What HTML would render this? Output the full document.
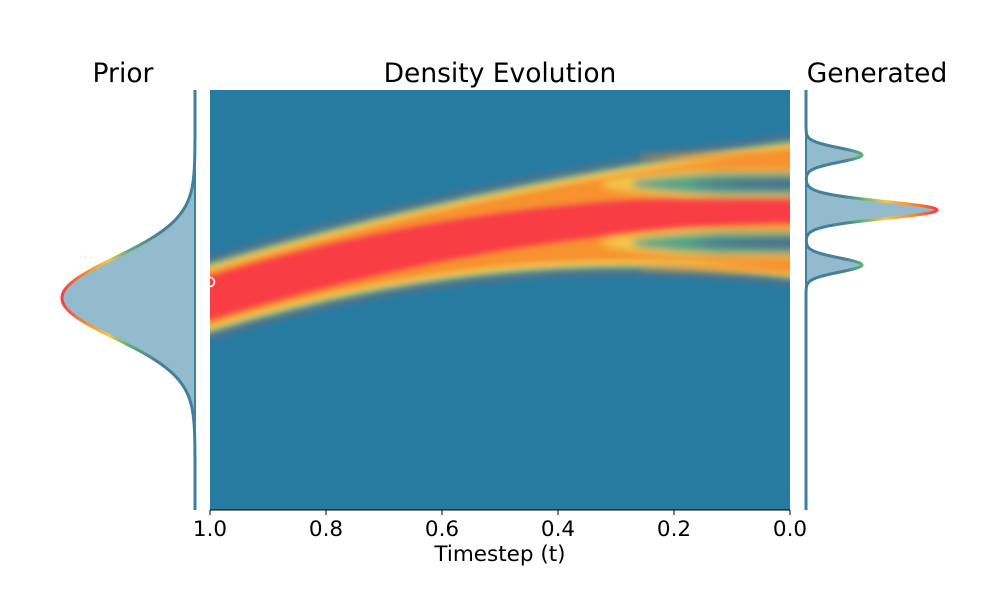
<!DOCTYPE html>
<html><head><meta charset="utf-8"><style>
body{margin:0;background:#fff;width:1000px;height:600px;overflow:hidden}
svg{display:block}
text{font-family:"DejaVu Sans","Liberation Sans",sans-serif;fill:#000}
</style></head><body>
<svg id="s" width="1000" height="600" xmlns="http://www.w3.org/2000/svg">
<defs>
<clipPath id="cp"><rect x="210" y="90" width="580" height="420"/></clipPath>
<filter id="bl" x="-10%" y="-10%" width="120%" height="120%"><feGaussianBlur stdDeviation="3"/></filter>
<filter id="bl2" x="-10%" y="-50%" width="120%" height="200%"><feGaussianBlur stdDeviation="4"/></filter>
<linearGradient id="gp" x1="195" y1="0" x2="62" y2="0" gradientUnits="userSpaceOnUse">
<stop offset="0" stop-color="#3f7fa0"/><stop offset="0.3" stop-color="#4d7f94"/><stop offset="0.5" stop-color="#5bb07a"/><stop offset="0.65" stop-color="#f4c64a"/><stop offset="0.8" stop-color="#f7922e"/><stop offset="1" stop-color="#f83e44"/></linearGradient>
<linearGradient id="gg" x1="806" y1="0" x2="937" y2="0" gradientUnits="userSpaceOnUse">
<stop offset="0" stop-color="#3f7fa0"/><stop offset="0.3" stop-color="#4d7f94"/><stop offset="0.42" stop-color="#5bb07a"/><stop offset="0.6" stop-color="#f4c64a"/><stop offset="0.8" stop-color="#f7922e"/><stop offset="1" stop-color="#f83e44"/></linearGradient>
</defs>
<rect x="210" y="90" width="580" height="420" fill="#277ba0"/>
<g clip-path="url(#cp)" id="band"></g>
<g id="marg"></g>
<circle cx="210" cy="282" r="4.5" fill="none" stroke="#fff" stroke-width="1.5"/>
<line x1="195" y1="90" x2="195" y2="510" stroke="#3f7fa0" stroke-width="2"/>
<line x1="806" y1="90" x2="806" y2="510" stroke="#3f7fa0" stroke-width="2"/>
<line x1="210" y1="510" x2="790" y2="510" stroke="#000" stroke-width="1"/>
<g stroke="#000"><line x1="210" y1="510" x2="210" y2="515"/><line x1="326" y1="510" x2="326" y2="515"/><line x1="442" y1="510" x2="442" y2="515"/><line x1="558" y1="510" x2="558" y2="515"/><line x1="674" y1="510" x2="674" y2="515"/><line x1="790" y1="510" x2="790" y2="515"/></g>
<g font-size="21.5" text-anchor="middle"><text x="210" y="536">1.0</text><text x="326" y="536">0.8</text><text x="442" y="536">0.6</text><text x="558" y="536">0.4</text><text x="674" y="536">0.2</text><text x="790" y="536">0.0</text>
<text x="500" y="561">Timestep (t)</text></g>
<g font-size="26.5" text-anchor="middle"><text x="123" y="82">Prior</text><text x="500" y="82">Density Evolution</text><text x="877" y="82">Generated</text></g>
</svg>
<script>
var NS="http://www.w3.org/2000/svg";
function poly(par,pts,fill,filt){var p=document.createElementNS(NS,"polygon");p.setAttribute("points",pts.map(function(a){return a[0].toFixed(1)+","+a[1].toFixed(1)}).join(" "));p.setAttribute("fill",fill);if(filt)p.setAttribute("filter",filt);par.appendChild(p);}
var band=document.getElementById("band");
function c(u){return 298-88*(1-Math.pow(1-u,2));}
function hw(u){return 30+ 34*Math.pow(u,2.2);}
function core(u){return 23-9*Math.pow(u,1.5);}
var layers=[[12,"#53708c"],[6,"#4fa586"],[2,"#f4c64a"],[-3,"#f7922e"]];
var g=document.createElementNS(NS,"g");g.setAttribute("filter","url(#bl)");band.appendChild(g);
layers.forEach(function(L){var tp=[],bt=[];for(var x=200;x<=800;x+=5){var u=Math.max(0,Math.min(1,(x-210)/580));var h=hw(u)+L[0];tp.push([x,c(u)-h]);bt.unshift([x,c(u)+h]);}poly(g,tp.concat(bt),L[1]);});
var tpc=[],btc=[];for(var x=200;x<=800;x+=5){var u=Math.max(0,Math.min(1,(x-210)/580));var h=core(u);tpc.push([x,c(u)-h]);btc.unshift([x,c(u)+h]);}
poly(g,tpc.concat(btc),"#f83e44");
var g2=document.createElementNS(NS,"g");g2.setAttribute("filter","url(#bl2)");band.appendChild(g2);
function gap(cy,half,col,x0){var pts=[];for(var x=x0;x<=810;x+=5){var f=Math.min(1,Math.sqrt((x-x0)/90));pts.push([x,cy-half*f]);}for(var x=810;x>=x0;x-=5){var f=Math.min(1,Math.sqrt((x-x0)/90));pts.push([x,cy+half*f]);}poly(g2,pts,col);}
gap(184,14,"#f4c64a",600);gap(243,14,"#f4c64a",600);
gap(184,11,"#4fa586",630);gap(243,11,"#4fa586",630);
gap(184,6,"#4e6f8c",690);gap(243,6,"#4e6f8c",690);
function band2(cy,half,col,x0){var pts=[[x0,cy-1],[810,cy-half],[810,cy+half],[x0,cy+1]];poly(g2,pts,col);}
band2(157,5,"#f7922e",640);band2(268,5,"#f7922e",640);
var m=document.getElementById("marg");
function path(d,fill,stroke,sw){var p=document.createElementNS(NS,"path");p.setAttribute("d",d);p.setAttribute("fill",fill);p.setAttribute("stroke",stroke);p.setAttribute("stroke-width",sw);m.appendChild(p);}
var d="M195,90",dl="";for(var y=90;y<=510;y+=1){var x=195-133*Math.exp(-Math.pow((y-298)/40,2)/2);d+=" L"+x.toFixed(1)+","+y;dl+=(dl?" L":"M")+x.toFixed(1)+","+y;}
path(d+" L195,510 Z","#93bacd","none",0);path(dl,"none","url(#gp)",3);
var d2="M806,90",dl2="";for(var y=90;y<=510;y+=1){var x=806+56*Math.exp(-Math.pow((y-155)/7,2)/2)+131*Math.exp(-Math.pow((y-210)/8.5,2)/2)+56*Math.exp(-Math.pow((y-265)/7,2)/2);d2+=" L"+x.toFixed(1)+","+y;dl2+=(dl2?" L":"M")+x.toFixed(1)+","+y;}
path(d2+" L806,510 Z","#93bacd","none",0);path(dl2,"none","url(#gg)",3);
</script>
</body></html>
